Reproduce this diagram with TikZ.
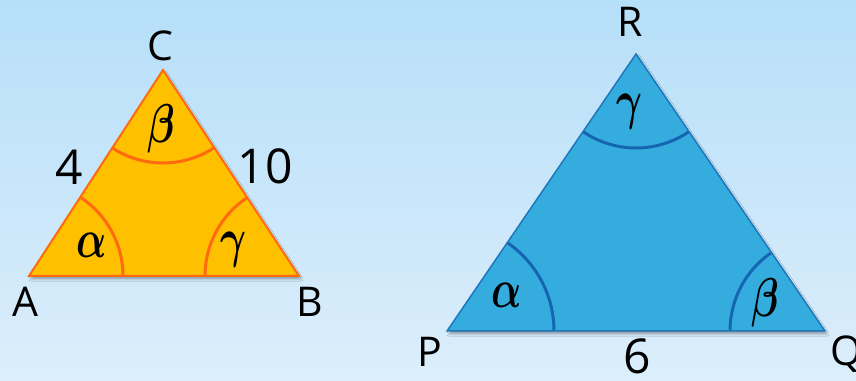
\documentclass[tikz,border=0pt]{standalone}
\usepackage{fontspec}
\setmainfont{Open Sans}
\usetikzlibrary{angles,shadows.blur}
\definecolor{bgA}{HTML}{B6DFF9}
\definecolor{bgB}{HTML}{DCEEFB}
\definecolor{ofill}{HTML}{FFC000}
\definecolor{oline}{HTML}{FF6A10}
\definecolor{bfill}{HTML}{34ADDE}
\definecolor{bline}{HTML}{1E77BD}
\definecolor{barc}{HTML}{1565B0}
\newcommand{\grk}[1]{\scalebox{1.6}[2.2]{\Huge\boldmath$#1$}}
\begin{document}
\begin{tikzpicture}[x=1pt,y=1pt,
  vlabel/.style={font=\fontsize{41}{41}\selectfont, inner sep=0pt},
  nlabel/.style={font=\fontsize{48}{48}\selectfont, inner sep=0pt},
  glabel/.style={inner sep=0pt},
  tshadow/.style={blur shadow={shadow xshift=2pt, shadow yshift=-3pt, shadow blur steps=6, shadow opacity=35}},
  oarc/.style={draw=oline, line width=3pt},
  barcs/.style={draw=barc, line width=3pt}]
\useasboundingbox (0,0) rectangle (856,380);
\shade[top color=bgA, bottom color=bgB] (0,0) rectangle (856,380);
% left triangle
\coordinate (A) at (29,104);
\coordinate (B) at (299,104);
\coordinate (C) at (163,310);
\fill[ofill, tshadow] (A) -- (B) -- (C) -- cycle;
\pic[oarc, angle radius=94pt] {angle = B--A--C};
\pic[oarc, angle radius=94pt] {angle = C--B--A};
\pic[oarc, angle radius=93pt] {angle = A--C--B};
\draw[oline, line width=2pt, line join=miter] (A) -- (B) -- (C) -- cycle;
% right triangle
\coordinate (P) at (447,49);
\coordinate (Q) at (825,49);
\coordinate (R) at (636,326);
\fill[bfill, tshadow] (P) -- (Q) -- (R) -- cycle;
\pic[barcs, angle radius=107pt] {angle = Q--P--R};
\pic[barcs, angle radius=95pt] {angle = R--Q--P};
\pic[barcs, angle radius=94pt] {angle = P--R--Q};
\draw[bline, line width=1.5pt, line join=miter] (P) -- (Q) -- (R) -- cycle;
% vertex labels
\node[vlabel] (lC) at (160,334) {C};
\node[vlabel] (lA) at (25,78) {A};
\node[vlabel] (lB) at (310,78) {B};
\node[vlabel] (lR) at (630,358) {R};
\node[vlabel] (lP) at (430,28) {P};
\node[vlabel] (lQ) at (846,26) {Q};
% side labels
\node[nlabel] (s4) at (69,213) {4};
\node[nlabel] (s10) at (265,214) {10};
\node[nlabel] (s6) at (637,24) {6};
% angle labels
\node[glabel] (ga1) at (92,135) {\grk{\alpha}};
\node[glabel] (gb1) at (161,251) {\grk{\beta}};
\node[glabel] (gc1) at (234,130) {\grk{\gamma}};
\node[glabel] (ga2) at (507,85) {\grk{\alpha}};
\node[glabel] (gb2) at (765,77) {\grk{\beta}};
\node[glabel] (gc2) at (630,268) {\grk{\gamma}};
\end{tikzpicture}
\end{document}
